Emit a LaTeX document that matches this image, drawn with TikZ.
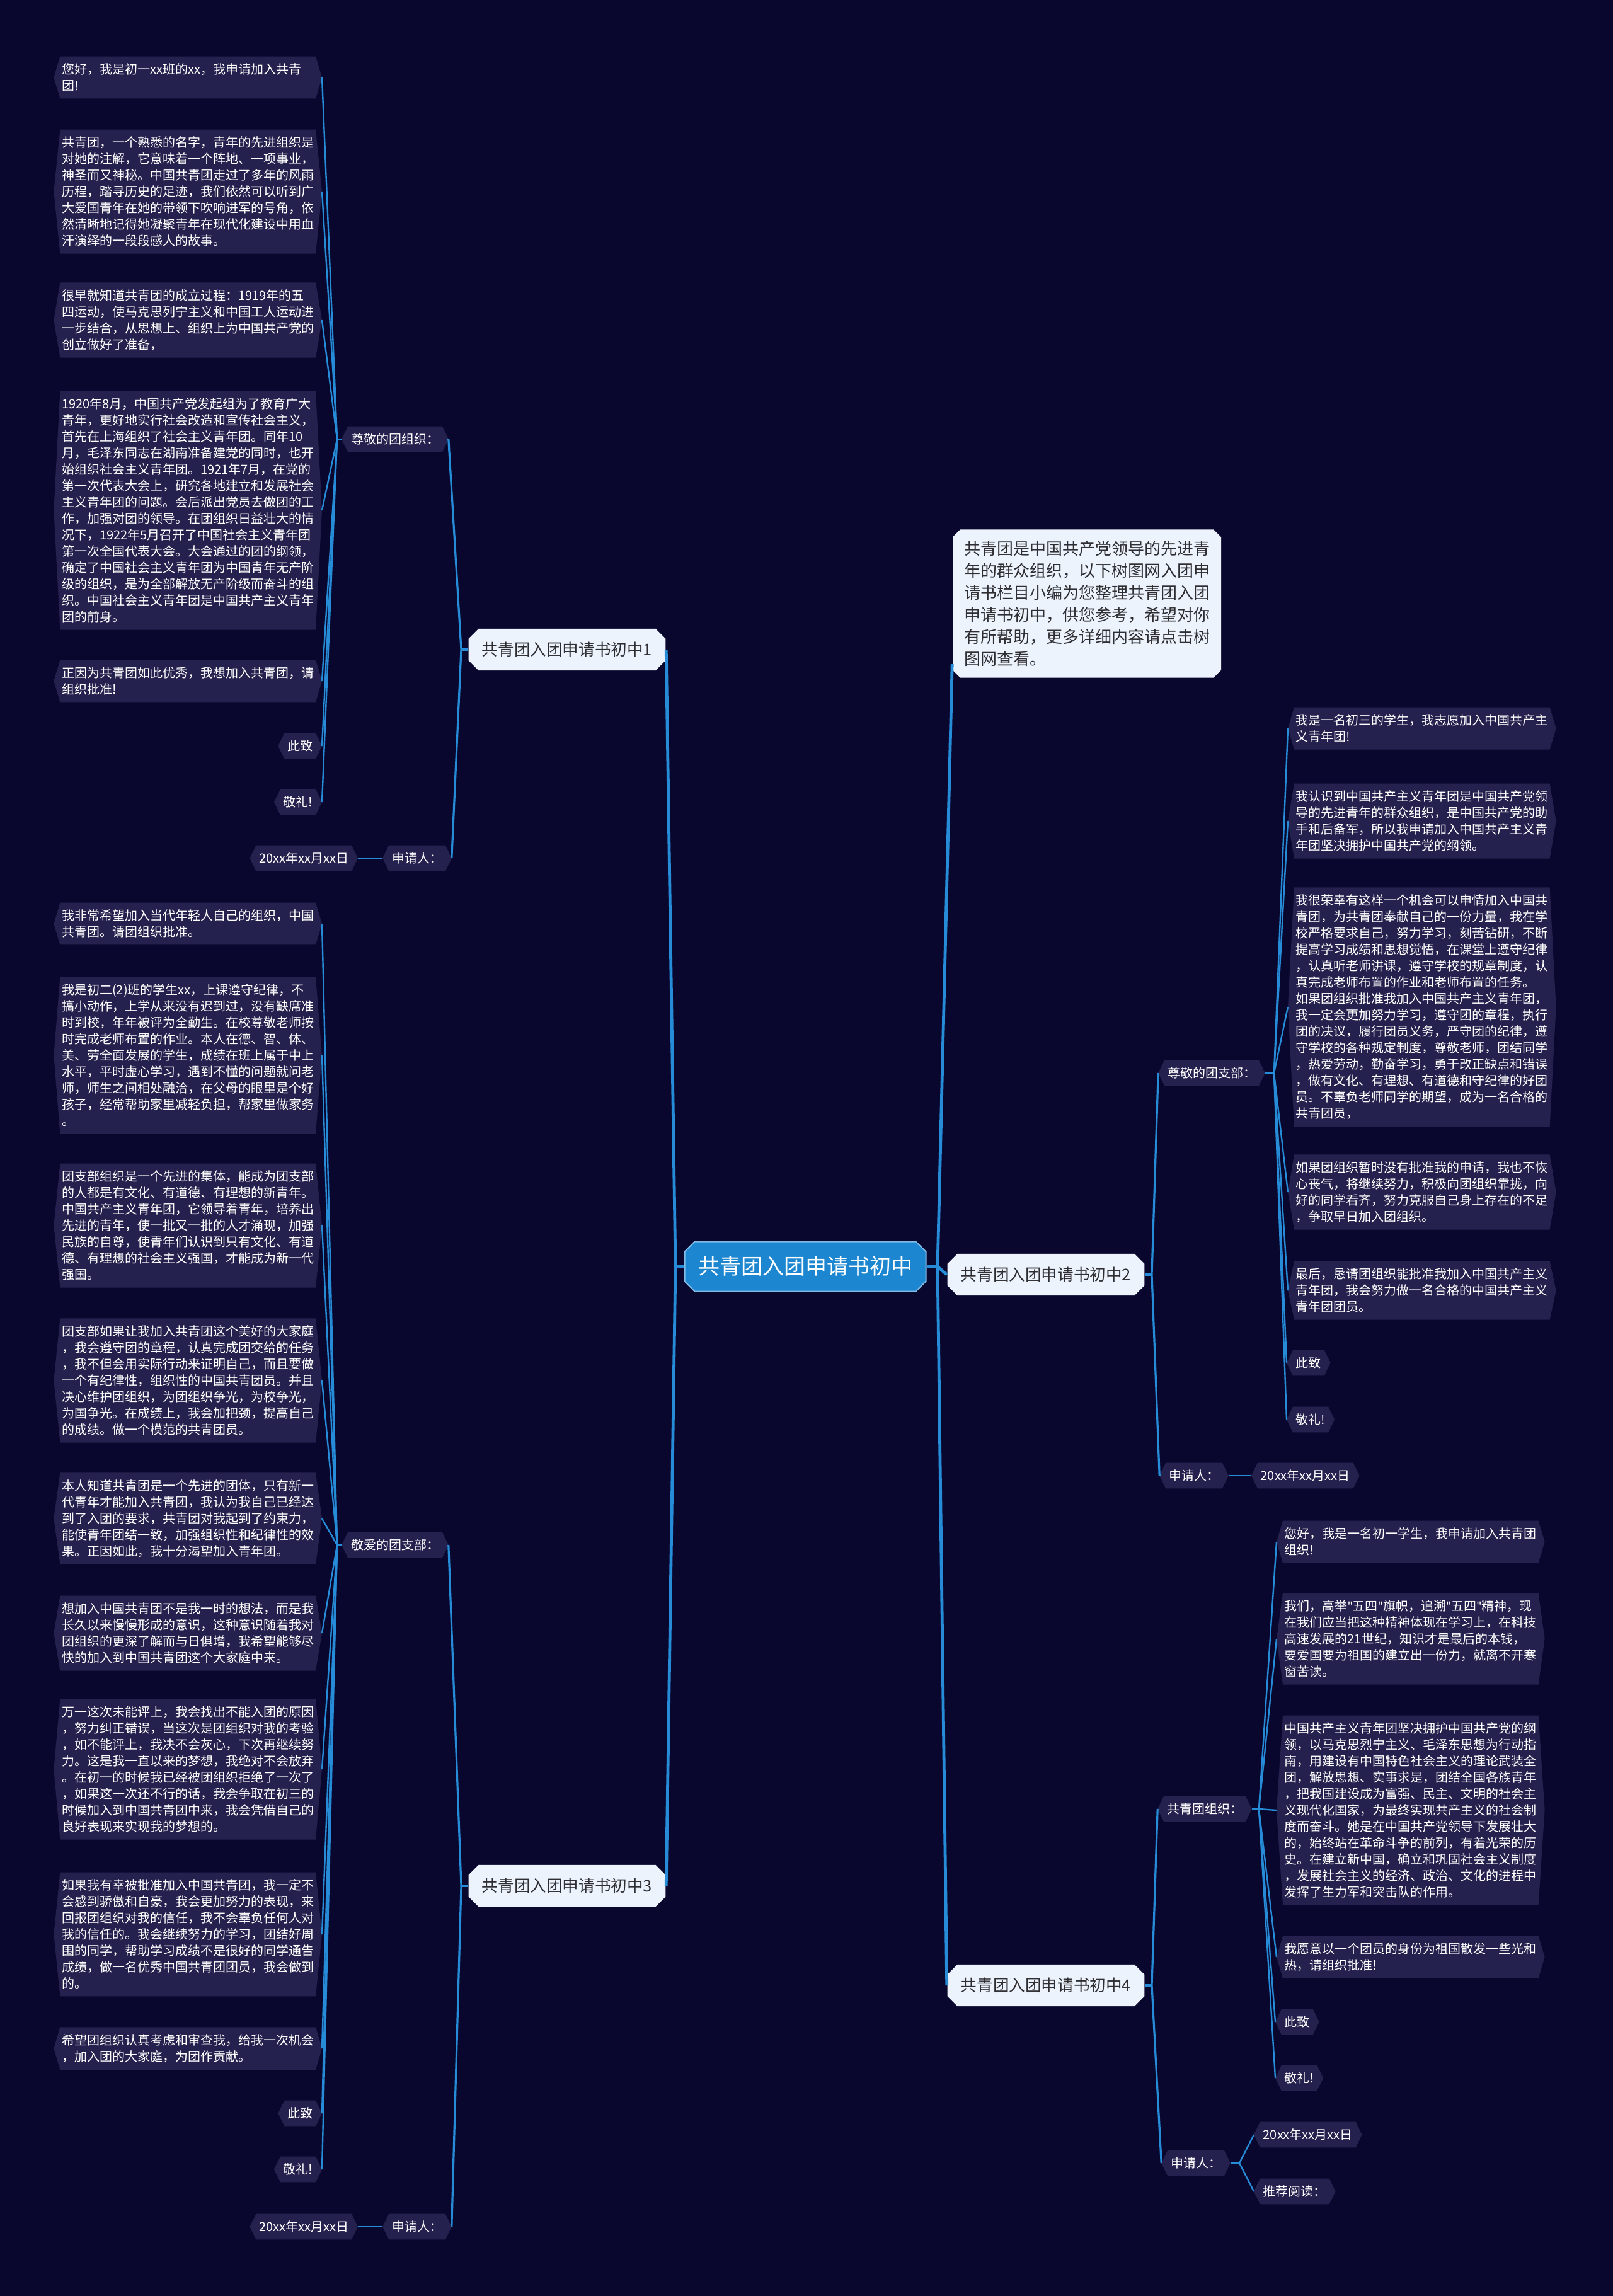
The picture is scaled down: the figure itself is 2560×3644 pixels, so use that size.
\documentclass[tikz,border=0pt]{standalone}
\usepackage{fontspec}
\setmainfont{Noto Sans CJK SC}
\newfontfamily\quotefont{Noto Sans}
\usepackage{tikz}
\usetikzlibrary{shapes.misc}

\definecolor{pagebg}{RGB}{10,7,46}
\definecolor{leafbg}{RGB}{37,33,78}
\definecolor{linkblue}{RGB}{38,140,215}
\definecolor{rootblue}{RGB}{28,134,208}
\definecolor{topicbg}{RGB}{237,243,252}
\definecolor{topictext}{RGB}{45,45,50}

\newcommand\dq[1]{{\quotefont"}#1{\quotefont"}}

\pgfdeclarelayer{canvas}
\pgfdeclarelayer{plates}
\pgfsetlayers{canvas,plates,main}

\begin{document}
\begin{tikzpicture}[
    x=0.25pt, y=-0.25pt,
    root/.style={
        chamfered rectangle,
        chamfered rectangle xsep=2pt,
        chamfered rectangle ysep=2pt,
        fill=rootblue,
        draw=rootblue!55!white,
        line width=0.5pt,
        text=white,
        font=\fontsize{8.5pt}{10pt}\selectfont,
        minimum width=95.75pt,
        minimum height=19.75pt
    },
    topic/.style={
        chamfered rectangle,
        chamfered rectangle xsep=2pt,
        chamfered rectangle ysep=2pt,
        fill=topicbg,
        text=topictext,
        font=\fontsize{6.4pt}{8pt}\selectfont,
        minimum width=76pt,
        minimum height=15.25pt
    },
    intro/.style={
        chamfered rectangle,
        chamfered rectangle xsep=1.5pt,
        chamfered rectangle ysep=1.5pt,
        fill=topicbg,
        text=topictext,
        align=left,
        font=\fontsize{6.5pt}{8.75pt}\selectfont,
        inner xsep=3pt,
        inner ysep=3pt
    },
    leaf/.style={
        text=white,
        align=left,
        font=\fontsize{5pt}{6.5pt}\selectfont,
        inner xsep=1pt,
        inner ysep=2.6pt
    },
    para/.style={leaf, text width=100pt, inner xsep=0.5pt},
    trunk/.style={draw=linkblue, line width=1.2pt},
    branch/.style={draw=linkblue, line width=0.8pt},
    twig/.style={draw=linkblue, line width=0.6pt}
]

\begin{pgfonlayer}{canvas}
\fill[pagebg] (0,0) rectangle (2560,3644);
\end{pgfonlayer}
\useasboundingbox (0,0) rectangle (2560,3644);

% centre and main topics
\node[root] (root) at (1278,2010) {共青团入团申请书初中};
\node[topic] (t1) at (900,1031) {共青团入团申请书初中1};
\node[topic] (t3) at (900,2993) {共青团入团申请书初中3};
\node[topic] (t2) at (1660,2023) {共青团入团申请书初中2};
\node[topic] (t4) at (1660,3151) {共青团入团申请书初中4};
\node[intro] (info) at (1725,958) {
共青团是中国共产党领导的先进青\\
年的群众组织，以下树图网入团申\\
请书栏目小编为您整理共青团入团\\
申请书初中，供您参考，希望对你\\
有所帮助，更多详细内容请点击树\\
图网查看。};

% topic 1
\node[leaf] (o1) at (627,697) {尊敬的团组织：};
\node[leaf] (s1) at (662,1362) {申请人：};
\node[leaf, anchor=east] (d1) at (558,1362) {20xx年xx月xx日};
\node[para, anchor=east] (a1) at (501,123) {
您好，我是初一xx班的xx，我申请加入共青\\
团!};
\node[para, anchor=east] (a2) at (501,304) {
共青团，一个熟悉的名字，青年的先进组织是\\
对她的注解，它意味着一个阵地、一项事业，\\
神圣而又神秘。中国共青团走过了多年的风雨\\
历程，踏寻历史的足迹，我们依然可以听到广\\
大爱国青年在她的带领下吹响进军的号角，依\\
然清晰地记得她凝聚青年在现代化建设中用血\\
汗演绎的一段段感人的故事。};
\node[para, anchor=east] (a3) at (501,508) {
很早就知道共青团的成立过程：1919年的五\\
四运动，使马克思列宁主义和中国工人运动进\\
一步结合，从思想上、组织上为中国共产党的\\
创立做好了准备，};
\node[para, anchor=east] (a4) at (501,810) {
1920年8月，中国共产党发起组为了教育广大\\
青年，更好地实行社会改造和宣传社会主义，\\
首先在上海组织了社会主义青年团。同年10\\
月，毛泽东同志在湖南准备建党的同时，也开\\
始组织社会主义青年团。1921年7月，在党的\\
第一次代表大会上，研究各地建立和发展社会\\
主义青年团的问题。会后派出党员去做团的工\\
作，加强对团的领导。在团组织日益壮大的情\\
况下，1922年5月召开了中国社会主义青年团\\
第一次全国代表大会。大会通过的团的纲领，\\
确定了中国社会主义青年团为中国青年无产阶\\
级的组织，是为全部解放无产阶级而奋斗的组\\
织。中国社会主义青年团是中国共产主义青年\\
团的前身。};
\node[para, anchor=east] (a5) at (501,1081) {
正因为共青团如此优秀，我想加入共青团，请\\
组织批准!};
\node[leaf, anchor=east] (a6) at (501,1184) {此致};
\node[leaf, anchor=east] (a7) at (501,1273) {敬礼!};

% topic 3
\node[leaf] (o3) at (627,2452) {敬爱的团支部：};
\node[leaf] (s3) at (662,3534) {申请人：};
\node[leaf, anchor=east] (d3) at (558,3534) {20xx年xx月xx日};
\node[para, anchor=east] (c1) at (501,1466) {
我非常希望加入当代年轻人自己的组织，中国\\
共青团。请团组织批准。};
\node[para, anchor=east] (c2) at (501,1675) {
我是初二(2)班的学生xx，上课遵守纪律，不\\
搞小动作，上学从来没有迟到过，没有缺席准\\
时到校，年年被评为全勤生。在校尊敬老师按\\
时完成老师布置的作业。本人在德、智、体、\\
美、劳全面发展的学生，成绩在班上属于中上\\
水平，平时虚心学习，遇到不懂的问题就问老\\
师，师生之间相处融洽，在父母的眼里是个好\\
孩子，经常帮助家里减轻负担，帮家里做家务\\
。};
\node[para, anchor=east] (c3) at (501,1945) {
团支部组织是一个先进的集体，能成为团支部\\
的人都是有文化、有道德、有理想的新青年。\\
中国共产主义青年团，它领导着青年，培养出\\
先进的青年，使一批又一批的人才涌现，加强\\
民族的自尊，使青年们认识到只有文化、有道\\
德、有理想的社会主义强国，才能成为新一代\\
强国。};
\node[para, anchor=east] (c4) at (501,2191) {
团支部如果让我加入共青团这个美好的大家庭\\
，我会遵守团的章程，认真完成团交给的任务\\
，我不但会用实际行动来证明自己，而且要做\\
一个有纪律性，组织性的中国共青团员。并且\\
决心维护团组织，为团组织争光，为校争光，\\
为国争光。在成绩上，我会加把颈，提高自己\\
的成绩。做一个模范的共青团员。};
\node[para, anchor=east] (c5) at (501,2410) {
本人知道共青团是一个先进的团体，只有新一\\
代青年才能加入共青团，我认为我自己已经达\\
到了入团的要求，共青团对我起到了约束力，\\
能使青年团结一致，加强组织性和纪律性的效\\
果。正因如此，我十分渴望加入青年团。};
\node[para, anchor=east] (c6) at (501,2592) {
想加入中国共青团不是我一时的想法，而是我\\
长久以来慢慢形成的意识，这种意识随着我对\\
团组织的更深了解而与日俱增，我希望能够尽\\
快的加入到中国共青团这个大家庭中来。};
\node[para, anchor=east] (c7) at (501,2808) {
万一这次未能评上，我会找出不能入团的原因\\
，努力纠正错误，当这次是团组织对我的考验\\
，如不能评上，我决不会灰心，下次再继续努\\
力。这是我一直以来的梦想，我绝对不会放弃\\
。在初一的时候我已经被团组织拒绝了一次了\\
，如果这一次还不行的话，我会争取在初三的\\
时候加入到中国共青团中来，我会凭借自己的\\
良好表现来实现我的梦想的。};
\node[para, anchor=east] (c8) at (501,3070) {
如果我有幸被批准加入中国共青团，我一定不\\
会感到骄傲和自豪，我会更加努力的表现，来\\
回报团组织对我的信任，我不会辜负任何人对\\
我的信任的。我会继续努力的学习，团结好周\\
围的同学，帮助学习成绩不是很好的同学通告\\
成绩，做一名优秀中国共青团团员，我会做到\\
的。};
\node[para, anchor=east] (c9) at (501,3251) {
希望团组织认真考虑和审查我，给我一次机会\\
，加入团的大家庭，为团作贡献。};
\node[leaf, anchor=east] (c10) at (501,3354) {此致};
\node[leaf, anchor=east] (c11) at (501,3443) {敬礼!};

% topic 2
\node[leaf] (o2) at (1923,1703) {尊敬的团支部：};
\node[leaf] (s2) at (1895,2342) {申请人：};
\node[leaf, anchor=west] (d2) at (1996,2342) {20xx年xx月xx日};
\node[para, anchor=west] (b1) at (2054,1156) {
我是一名初三的学生，我志愿加入中国共产主\\
义青年团!};
\node[para, anchor=west] (b2) at (2054,1303) {
我认识到中国共产主义青年团是中国共产党领\\
导的先进青年的群众组织，是中国共产党的助\\
手和后备军，所以我申请加入中国共产主义青\\
年团坚决拥护中国共产党的纲领。};
\node[para, anchor=west] (b3) at (2054,1598) {
我很荣幸有这样一个机会可以申情加入中国共\\
青团，为共青团奉献自己的一份力量，我在学\\
校严格要求自己，努力学习，刻苦钻研，不断\\
提高学习成绩和思想觉悟，在课堂上遵守纪律\\
，认真听老师讲课，遵守学校的规章制度，认\\
真完成老师布置的作业和老师布置的任务。\\
如果团组织批准我加入中国共产主义青年团，\\
我一定会更加努力学习，遵守团的章程，执行\\
团的决议，履行团员义务，严守团的纪律，遵\\
守学校的各种规定制度，尊敬老师，团结同学\\
，热爱劳动，勤奋学习，勇于改正缺点和错误\\
，做有文化、有理想、有道德和守纪律的好团\\
员。不辜负老师同学的期望，成为一名合格的\\
共青团员，};
\node[para, anchor=west] (b4) at (2054,1892) {
如果团组织暂时没有批准我的申请，我也不恢\\
心丧气，将继续努力，积极向团组织靠拢，向\\
好的同学看齐，努力克服自己身上存在的不足\\
，争取早日加入团组织。};
\node[para, anchor=west] (b5) at (2054,2048) {
最后，恳请团组织能批准我加入中国共产主义\\
青年团，我会努力做一名合格的中国共产主义\\
青年团团员。};
\node[leaf, anchor=west] (b6) at (2052,2163) {此致};
\node[leaf, anchor=west] (b7) at (2052,2253) {敬礼!};

% topic 4
\node[leaf] (o4) at (1912,2871) {共青团组织：};
\node[leaf] (s4) at (1898,3433) {申请人：};
\node[leaf, anchor=west] (d4) at (2000,3388) {20xx年xx月xx日};
\node[leaf, anchor=west] (r4) at (2000,3478) {推荐阅读：};
\node[para, anchor=west] (e1) at (2036,2447) {
您好，我是一名初一学生，我申请加入共青团\\
组织!};
\node[para, anchor=west] (e2) at (2036,2601) {
我们，高举\dq{五四}旗帜，追溯\dq{五四}精神，现\\
在我们应当把这种精神体现在学习上，在科技\\
高速发展的21世纪，知识才是最后的本钱，\\
要爱国要为祖国的建立出一份力，就离不开寒\\
窗苦读。};
\node[para, anchor=west] (e3) at (2036,2873) {
中国共产主义青年团坚决拥护中国共产党的纲\\
领，以马克思烈宁主义、毛泽东思想为行动指\\
南，用建设有中国特色社会主义的理论武装全\\
团，解放思想、实事求是，团结全国各族青年\\
，把我国建设成为富强、民主、文明的社会主\\
义现代化国家，为最终实现共产主义的社会制\\
度而奋斗。她是在中国共产党领导下发展壮大\\
的，始终站在革命斗争的前列，有着光荣的历\\
史。在建立新中国，确立和巩固社会主义制度\\
，发展社会主义的经济、政治、文化的进程中\\
发挥了生力军和突击队的作用。};
\node[para, anchor=west] (e4) at (2036,3106) {
我愿意以一个团员的身份为祖国散发一些光和\\
热，请组织批准!};
\node[leaf, anchor=west] (e5) at (2034,3209) {此致};
\node[leaf, anchor=west] (e6) at (2034,3298) {敬礼!};

% hexagon plates behind the dark nodes
\begin{pgfonlayer}{plates}
\foreach \n in {o1,s1,d1,a1,a2,a3,a4,a5,a6,a7,
                o3,s3,d3,c1,c2,c3,c4,c5,c6,c7,c8,c9,c10,c11,
                o2,s2,d2,b1,b2,b3,b4,b5,b6,b7,
                o4,s4,d4,r4,e1,e2,e3,e4,e5,e6}
    \fill[leafbg] (\n.north west) -- (\n.north east) -- ([xshift=2.5pt]\n.east)
        -- (\n.south east) -- (\n.south west) -- ([xshift=-2.5pt]\n.west) -- cycle;
\end{pgfonlayer}

% junctions
\coordinate (jl) at (1072,2010);
\coordinate (jr) at (1488,2010);
\coordinate (j1) at (732,1031);
\coordinate (j3) at (732,2993);
\coordinate (j2) at (1828,2023);
\coordinate (j4) at (1828,3151);
\coordinate (k1) at (535,697);
\coordinate (k3) at (535,2452);
\coordinate (k2) at (2022,1703);
\coordinate (k4) at (1998,2871);
\coordinate (m4) at (1967,3433);

% centre links
\draw[trunk] (root.west) -- (jl);
\draw[trunk] (jl) -- (t1.east);
\draw[trunk] (jl) -- (t3.east);
\draw[trunk] (root.east) -- (jr);
\draw[trunk] (jr) -- ([yshift=-24pt]info.west);
\draw[trunk] (jr) -- (t2.west);
\draw[trunk] (jr) -- (t4.west);

% topic links
\draw[branch] (t1.west) -- (j1);
\draw[branch] (j1) -- ([xshift=2.5pt]o1.east);
\draw[branch] (j1) -- ([xshift=2.5pt]s1.east);
\draw[branch] (t3.west) -- (j3);
\draw[branch] (j3) -- ([xshift=2.5pt]o3.east);
\draw[branch] (j3) -- ([xshift=2.5pt]s3.east);
\draw[branch] (t2.east) -- (j2);
\draw[branch] (j2) -- ([xshift=-2.5pt]o2.west);
\draw[branch] (j2) -- ([xshift=-2.5pt]s2.west);
\draw[branch] (t4.east) -- (j4);
\draw[branch] (j4) -- ([xshift=-2.5pt]o4.west);
\draw[branch] (j4) -- ([xshift=-2.5pt]s4.west);

% leaf links
\draw[twig] ([xshift=-2.5pt]o1.west) -- (k1);
\foreach \n in {a1,a2,a3,a4,a5,a6,a7}
    \draw[twig] (k1) -- ([xshift=2.5pt]\n.east);
\draw[twig] ([xshift=-2.5pt]o3.west) -- (k3);
\foreach \n in {c1,c2,c3,c4,c5,c6,c7,c8,c9,c10,c11}
    \draw[twig] (k3) -- ([xshift=2.5pt]\n.east);
\draw[twig] ([xshift=2.5pt]o2.east) -- (k2);
\foreach \n in {b1,b2,b3,b4,b5,b6,b7}
    \draw[twig] (k2) -- ([xshift=-2.5pt]\n.west);
\draw[twig] ([xshift=2.5pt]o4.east) -- (k4);
\foreach \n in {e1,e2,e3,e4,e5,e6}
    \draw[twig] (k4) -- ([xshift=-2.5pt]\n.west);
\draw[twig] ([xshift=2.5pt]s4.east) -- (m4);
\draw[twig] (m4) -- ([xshift=-2.5pt]d4.west);
\draw[twig] (m4) -- ([xshift=-2.5pt]r4.west);
\draw[twig] ([xshift=-2.5pt]s1.west) -- ([xshift=2.5pt]d1.east);
\draw[twig] ([xshift=-2.5pt]s3.west) -- ([xshift=2.5pt]d3.east);
\draw[twig] ([xshift=2.5pt]s2.east) -- ([xshift=-2.5pt]d2.west);

\end{tikzpicture}
\end{document}
